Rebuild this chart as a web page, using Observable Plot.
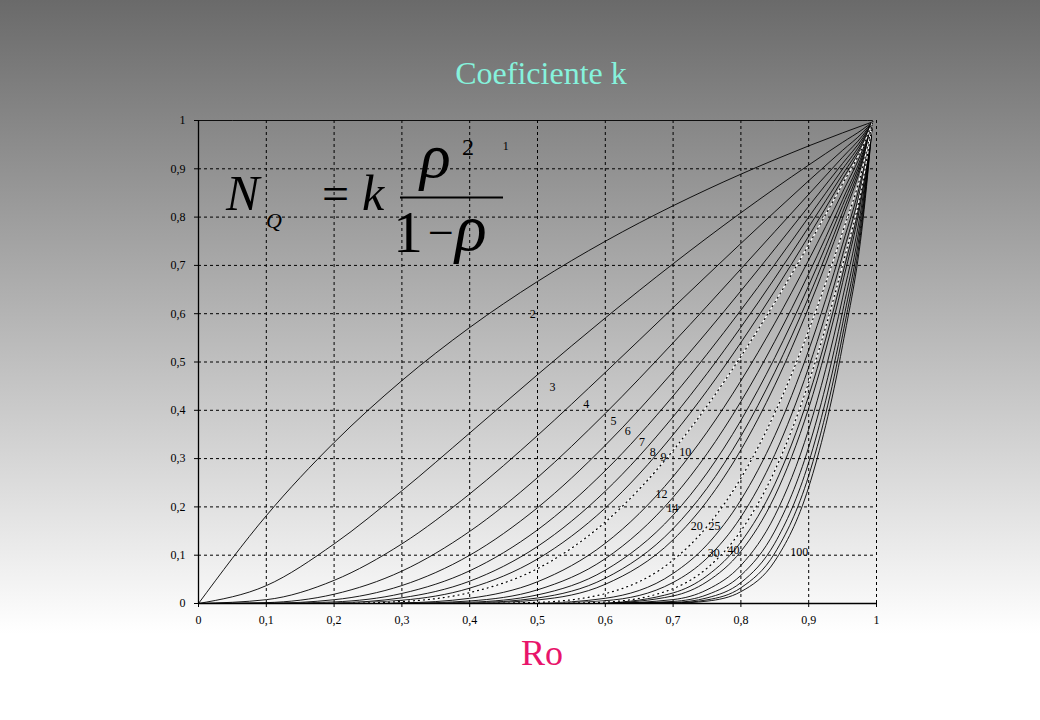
<!DOCTYPE html>
<html><head><meta charset="utf-8">
<script src="https://cdn.jsdelivr.net/npm/d3@7"></script>
<script src="https://cdn.jsdelivr.net/npm/@observablehq/plot@0.6"></script>
<style>
html,body{margin:0;padding:0;background:#fff;}
#wrap{position:relative;width:1040px;height:720px;overflow:hidden;
 background:linear-gradient(to bottom,#6a6a6a 0%,#ffffff 88%,#ffffff 100%);}
#chart{position:absolute;left:0;top:0;}
#over{position:absolute;left:0;top:0;pointer-events:none;}
#over text{font-family:"Liberation Serif","DejaVu Serif",serif;}
</style></head><body>
<div id="wrap">
<div id="chart"></div>
<svg id="over" width="1040" height="720">
 <text x="541" y="84" text-anchor="middle" font-size="32" fill="#86f2dc">Coeficiente k</text>
 <text x="542" y="665" text-anchor="middle" font-size="36" fill="#e8146a">Ro</text>
 <g fill="#000">
  <text x="226" y="210" font-size="50" font-style="italic">N</text>
  <text x="266" y="228" font-size="22" font-style="italic">Q</text>
  <text x="322" y="210" font-size="48">=</text>
  <text x="362" y="210" font-size="50" font-style="italic">k</text>
  <text x="420" y="177" font-size="64" font-style="italic">ρ</text>
  <text x="462" y="155" font-size="24">2</text>
  <rect x="400" y="196.5" width="103" height="2"></rect>
  <text x="393" y="252" font-size="60">1</text>
  <text x="428" y="248" font-size="46">−</text>
  <text x="455" y="250" font-size="66" font-style="italic">ρ</text>
 </g>
</svg>
</div>
<script>
const rho = [0, 0.1, 0.2, 0.3, 0.4, 0.5, 0.6, 0.7, 0.75, 0.8, 0.85, 0.9, 0.95, 0.98, 0.994];
const servers = [1, 2, 3, 4, 5, 6, 7, 8, 9, 10, 12, 14, 16, 18, 20, 25, 30, 35, 40, 45, 50, 60, 70, 80, 90, 100];
const dottedServers = [10, 25, 40];

const k1   = [1, 1, 1, 1, 1, 1, 1, 1, 1, 1, 1, 1, 1, 1, 1];
const k2   = [0, .1818, .3333, .4615, .5714, .6667, .75, .8235, .8571, .8889, .9189, .9474, .9744, .9899, .997];
const k3   = [0, .0370, .1233, .2334, .3529, .4737, .5912, .7033, .7570, .8090, .8593, .9078, .9548, .9821, .997];
const k4   = [0, .0079, .0479, .1235, .2268, .3478, .4784, .6124, .6792, .7455, .8110, .8753, .9383, .9755, .997];
const k5   = [0, .0018, .0192, .0671, .1493, .2607, .3936, .5398, .6157, .6926, .7700, .8472, .9240, .9697, .997];
const k6   = [0, .0004, .0078, .0372, .0999, .1983, .3276, .4800, .5622, .6472, .7342, .8224, .9112, .9645, .997];
const k7   = [0, .0001, .0032, .0208, .0677, .1524, .2751, .4296, .5162, .6074, .7023, .8000, .8994, .9597, .997];
const k8   = [0, 0, .0013, .0118, .0462, .1181, .2326, .3866, .4760, .5721, .6736, .7795, .8886, .9552, .997];
const k9   = [0, 0, .0006, .0067, .0318, .0921, .1977, .3493, .4405, .5403, .6474, .7606, .8785, .9511, .997];
const k10  = [0, 0, .0002, .0041, .0225, .0722, .1688, .3168, .4088, .5115, .6234, .7430, .8690, .9471, .996];
const k12  = [0, 0, 0, .0013, .0108, .0450, .1246, .2627, .3547, .4611, .5804, .7112, .8516, .9410, .996];
const k14  = [0, 0, 0, .0004, .0053, .0283, .0928, .2198, .3101, .4182, .5429, .6828, .8360, .9340, .996];
const k16  = [0, 0, 0, .0001, .0026, .0178, .0690, .1830, .2700, .3790, .5090, .6580, .8240, .9285, .996];
const k18  = [0, 0, 0, 0, .0013, .0114, .0523, .1550, .2385, .3465, .4790, .6345, .8100, .9230, .995];
const k20  = [0, 0, 0, 0, .0006, .0074, .0398, .1320, .2118, .3180, .4520, .6130, .7975, .9175, .995];
const k25  = [0, 0, 0, 0, .0002, .0025, .0205, .0900, .1592, .2595, .3945, .5652, .7690, .9050, .995];
const k30  = [0, 0, 0, 0, 0, .0008, .0108, .0622, .1216, .2145, .3476, .5245, .7440, .8940, .995];
const k35  = [0, 0, 0, 0, 0, .0003, .0058, .0436, .0939, .1790, .3085, .4890, .7215, .8838, .994];
const k40  = [0, 0, 0, 0, 0, .0001, .0030, .0308, .0731, .1505, .2753, .4578, .7010, .8743, .994];
const k45  = [0, 0, 0, 0, 0, 0, .0017, .0219, .0574, .1272, .2470, .4298, .6820, .8657, .994];
const k50  = [0, 0, 0, 0, 0, 0, .0010, .0157, .0452, .1080, .2223, .4045, .6645, .8573, .994];
const k60  = [0, 0, 0, 0, 0, 0, .0003, .0081, .0284, .0788, .1818, .3607, .6327, .8422, .994];
const k70  = [0, 0, 0, 0, 0, 0, .0001, .0043, .0181, .0582, .1500, .3238, .6045, .8284, .993];
const k80  = [0, 0, 0, 0, 0, 0, 0, .0022, .0116, .0433, .1248, .2921, .5790, .8157, .993];
const k90  = [0, 0, 0, 0, 0, 0, 0, .0012, .0075, .0325, .1044, .2647, .5557, .8038, .993];
const k100 = [0, 0, 0, 0, 0, 0, 0, .0007, .0049, .0245, .0878, .2408, .5345, .7927, .993];

const seriesK = [k1, k2, k3, k4, k5, k6, k7, k8, k9, k10, k12, k14, k16, k18, k20, k25, k30, k35, k40, k45, k50, k60, k70, k80, k90, k100];

const xTicks = [0, 0.1, 0.2, 0.3, 0.4, 0.5, 0.6, 0.7, 0.8, 0.9, 1];
const yTicks = [0, 0.1, 0.2, 0.3, 0.4, 0.5, 0.6, 0.7, 0.8, 0.9, 1];

const labelText = ["1", "2", "3", "4", "5", "6", "7", "8", "9", "10", "12", "14", "20", "25", "30", "40", "100"];
const labelRho  = [0.453, 0.493, 0.522, 0.572, 0.612, 0.633, 0.654, 0.670, 0.686, 0.718, 0.683, 0.699, 0.735, 0.761, 0.760, 0.789, 0.886];
const labelK    = [0.947, 0.600, 0.448, 0.412, 0.378, 0.356, 0.335, 0.313, 0.302, 0.313, 0.227, 0.198, 0.160, 0.160, 0.104, 0.110, 0.107];

const rows = servers.flatMap((c, i) => rho.map((r, j) => ({c, rho: r, k: seriesK[i][j]})));
const solidRows = rows.filter(d => !dottedServers.includes(d.c));
const dottedRows = rows.filter(d => dottedServers.includes(d.c));

const fmt = d => d === 0 ? "0" : d === 1 ? "1" : String(+d.toFixed(1)).replace(".", ",");
const grid = {stroke: "#000", strokeOpacity: 1, strokeWidth: 1, strokeDasharray: "3,3"};

const chart = Plot.plot({
  width: 1040, height: 720,
  marginLeft: 198, marginRight: 164, marginTop: 120, marginBottom: 117,
  x: {domain: [0, 1], label: null},
  y: {domain: [0, 1], label: null},
  style: {background: "transparent", fontFamily: "Liberation Serif, DejaVu Serif, serif", fontSize: "12px", color: "#000", overflow: "visible"},
  marks: [
    Plot.gridX(xTicks.slice(1), grid),
    Plot.gridY(yTicks.slice(1, -1), grid),
    Plot.line(solidRows, {x: "rho", y: "k", z: "c", stroke: "#000", strokeWidth: 0.9, curve: "monotone-x"}),
    Plot.line(dottedRows, {x: "rho", y: "k", z: "c", stroke: "#fff", strokeWidth: 1.2, curve: "monotone-x"}),
    Plot.line(dottedRows, {x: "rho", y: "k", z: "c", stroke: "#000", strokeWidth: 1.2, strokeDasharray: "1,4", curve: "monotone-x"}),
    Plot.ruleX([0], {stroke: "#000", strokeWidth: 1.3}),
    Plot.ruleY([0], {stroke: "#000", strokeWidth: 1.3}),
    Plot.axisX(xTicks, {tickSize: 4, tickPadding: 8, tickFormat: fmt, label: null, fontSize: 12}),
    Plot.axisY(yTicks, {tickSize: 4, tickPadding: 9, tickFormat: fmt, label: null, fontSize: 12}),
    Plot.text(labelText, {x: labelRho, y: labelK, text: d => d, fontSize: 12, fill: "#000"})
  ]
});
document.getElementById("chart").appendChild(chart);
</script>
</body></html>
